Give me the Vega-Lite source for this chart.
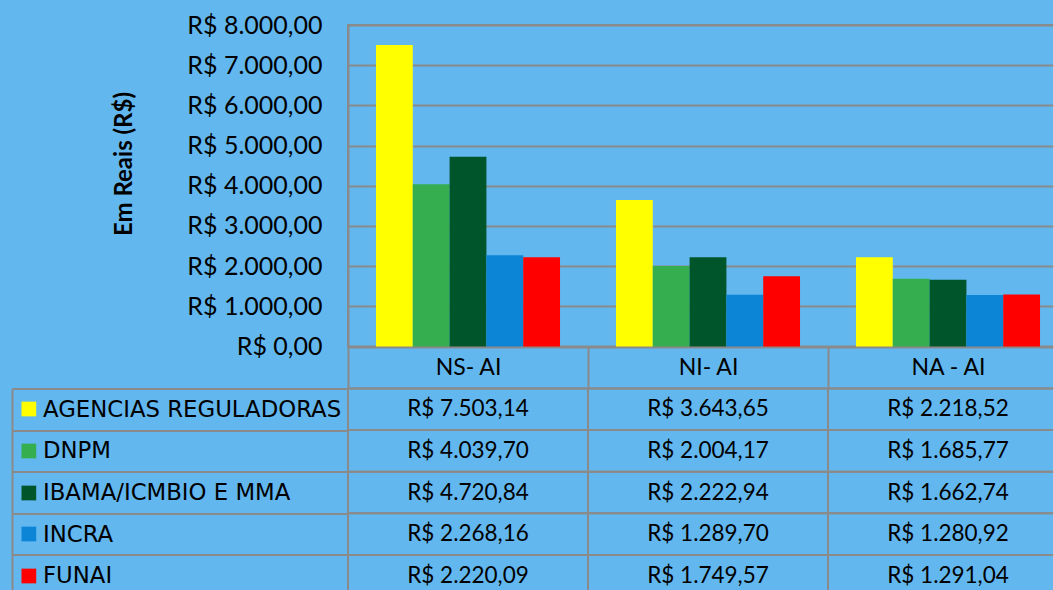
{
  "$schema": "https://vega.github.io/schema/vega-lite/v6.json",
  "background": "#62b7ee",
  "padding": {"left": 10, "top": 12, "right": 0, "bottom": 0},
  "data": {
    "values": [
      {"cat": "NS- AI", "series": "AGENCIAS REGULADORAS", "value": 7503.14},
      {"cat": "NS- AI", "series": "DNPM", "value": 4039.70},
      {"cat": "NS- AI", "series": "IBAMA/ICMBIO E MMA", "value": 4720.84},
      {"cat": "NS- AI", "series": "INCRA", "value": 2268.16},
      {"cat": "NS- AI", "series": "FUNAI", "value": 2220.09},
      {"cat": "NI- AI", "series": "AGENCIAS REGULADORAS", "value": 3643.65},
      {"cat": "NI- AI", "series": "DNPM", "value": 2004.17},
      {"cat": "NI- AI", "series": "IBAMA/ICMBIO E MMA", "value": 2222.94},
      {"cat": "NI- AI", "series": "INCRA", "value": 1289.70},
      {"cat": "NI- AI", "series": "FUNAI", "value": 1749.57},
      {"cat": "NA - AI", "series": "AGENCIAS REGULADORAS", "value": 2218.52},
      {"cat": "NA - AI", "series": "DNPM", "value": 1685.77},
      {"cat": "NA - AI", "series": "IBAMA/ICMBIO E MMA", "value": 1662.74},
      {"cat": "NA - AI", "series": "INCRA", "value": 1280.92},
      {"cat": "NA - AI", "series": "FUNAI", "value": 1291.04}
    ]
  },
  "vconcat": [
    {
      "width": 720,
      "height": 321.5,
      "mark": {"type": "bar"},
      "encoding": {
        "x": {
          "field": "cat", "type": "nominal", "sort": ["NS- AI", "NI- AI", "NA - AI"],
          "scale": {"paddingInner": 0, "paddingOuter": 0},
          "axis": {
            "title": null, "orient": "bottom", "domain": false, "grid": false,
            "ticks": true, "tickBand": "extent", "tickSize": 41.5, "tickColor": "#8a8a8a", "tickWidth": 2,
            "labelAngle": 0, "labelFont": "Lato", "labelFontSize": 23, "labelColor": "#000000",
            "labelBaseline": "middle", "labelPadding": -20.5
          }
        },
        "xOffset": {
          "field": "series", "type": "nominal",
          "sort": ["AGENCIAS REGULADORAS", "DNPM", "IBAMA/ICMBIO E MMA", "INCRA", "FUNAI"],
          "scale": {"paddingInner": 0, "paddingOuter": 0.76}
        },
        "y": {
          "field": "value", "type": "quantitative",
          "scale": {"domain": [0, 8000], "nice": false},
          "axis": {
            "title": "Em Reais (R$)", "titleFont": "Lato", "titleFontWeight": "bold", "titleFontSize": 24,
            "titleColor": "#000000", "titleX": -224, "titleY": 138.5, "titleBaseline": "middle", "titleAlign": "center", "titleAngle": -90,
            "values": [0, 1000, 2000, 3000, 4000, 5000, 6000, 7000, 8000],
            "format": "$,.2f",
            "grid": true, "gridColor": "#8a8a8a", "gridWidth": 2,
            "domain": true, "domainColor": "#8a8a8a", "domainWidth": 2,
            "ticks": false, "labelPadding": 26, "labelFont": "Lato", "labelFontSize": 25, "labelColor": "#000000"
          }
        },
        "color": {
          "field": "series", "type": "nominal",
          "sort": ["AGENCIAS REGULADORAS", "DNPM", "IBAMA/ICMBIO E MMA", "INCRA", "FUNAI"],
          "scale": {
            "domain": ["AGENCIAS REGULADORAS", "DNPM", "IBAMA/ICMBIO E MMA", "INCRA", "FUNAI"],
            "range": ["#FFFF00", "#34AE4F", "#00552A", "#0C85D6", "#FF0000"]
          },
          "legend": null
        }
      }
    },
    {
      "width": 720,
      "height": 208,
      "layer": [
        {
          "mark": {"type": "rect", "fill": "#000000", "fillOpacity": 0, "stroke": "#8a8a8a", "strokeWidth": 2},
          "encoding": {
            "x": {"field": "cat", "type": "nominal", "sort": ["NS- AI", "NI- AI", "NA - AI"],
                  "scale": {"paddingInner": 0, "paddingOuter": 0}, "axis": null},
            "y": {"field": "series", "type": "nominal",
                  "sort": ["AGENCIAS REGULADORAS", "DNPM", "IBAMA/ICMBIO E MMA", "INCRA", "FUNAI"],
                  "scale": {"paddingInner": 0, "paddingOuter": 0},
                  "axis": {"title": null, "orient": "left", "domain": false, "grid": false,
                           "ticks": true, "tickBand": "extent", "tickSize": 336, "tickColor": "#8a8a8a", "tickWidth": 2,
                           "labelAlign": "left", "labelBaseline": "middle", "labelPadding": -30.5,
                           "labelFont": "DejaVu Sans", "labelFontSize": 22.8, "labelColor": "#000000", "labelLimit": 400}}
          }
        },
        {
          "mark": {"type": "text", "font": "Lato", "fontSize": 22.5, "color": "#000000", "baseline": "middle", "align": "center"},
          "encoding": {
            "x": {"field": "cat", "type": "nominal", "sort": ["NS- AI", "NI- AI", "NA - AI"], "axis": null},
            "y": {"field": "series", "type": "nominal",
                  "sort": ["AGENCIAS REGULADORAS", "DNPM", "IBAMA/ICMBIO E MMA", "INCRA", "FUNAI"],
                  "axis": {"title": null, "orient": "left", "offset": 336, "domain": true, "domainColor": "#8a8a8a", "domainWidth": 2,
                           "ticks": false, "labels": false, "grid": false}},
            "text": {"field": "value", "type": "quantitative", "format": "$,.2f"}
          }
        },
        {
          "mark": {"type": "rect", "fill": "#000000", "fillOpacity": 0},
          "encoding": {
            "x": {"field": "cat", "type": "nominal", "sort": ["NS- AI", "NI- AI", "NA - AI"], "axis": null},
            "y": {"field": "series", "type": "nominal",
                  "sort": ["AGENCIAS REGULADORAS", "DNPM", "IBAMA/ICMBIO E MMA", "INCRA", "FUNAI"],
                  "axis": {"title": null, "orient": "left", "offset": 312.3, "domain": false, "labels": false, "grid": false,
                           "ticks": true, "tickSize": 14.7, "tickWidth": 14.7,
                           "tickColor": {
                             "condition": [
                               {"test": "datum.value === 'AGENCIAS REGULADORAS'", "value": "#FFFF00"},
                               {"test": "datum.value === 'DNPM'", "value": "#34AE4F"},
                               {"test": "datum.value === 'IBAMA/ICMBIO E MMA'", "value": "#00552A"},
                               {"test": "datum.value === 'INCRA'", "value": "#0C85D6"}
                             ],
                             "value": "#FF0000"
                           }}}
          }
        }
      ],
      "resolve": {"axis": {"y": "independent"}}
    }
  ],
  "spacing": 41.5,
  "bounds": "flush",
  "config": {
    "font": "Lato",
    "locale": {"number": {"decimal": ",", "thousands": ".", "grouping": [3], "currency": ["R$ ", ""]}},
    "view": {"stroke": "#8a8a8a", "strokeWidth": 2}
  }
}
